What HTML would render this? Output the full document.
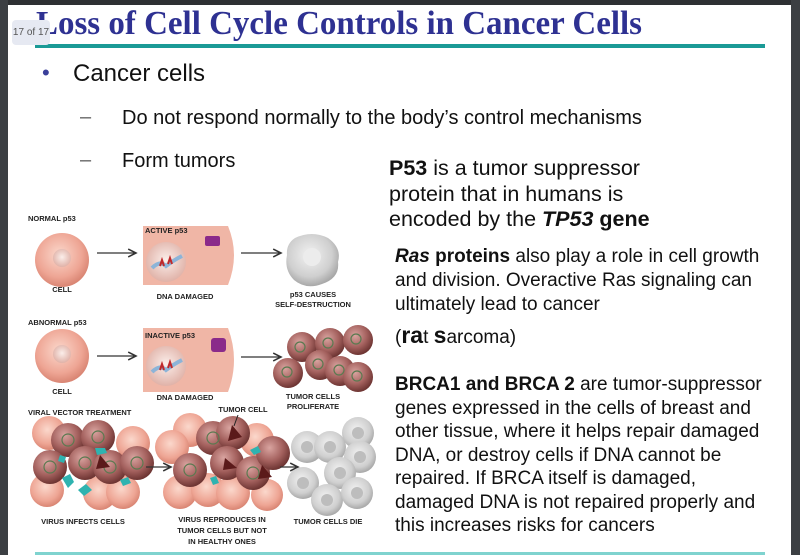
<!DOCTYPE html>
<html><head><meta charset="utf-8">
<style>
html,body{margin:0;padding:0}
body{width:800px;height:555px;position:relative;overflow:hidden;background:#fff;font-family:"Liberation Sans",Arial,sans-serif;color:#111}
.frameL{position:absolute;left:0;top:0;width:8px;height:555px;background:#3c3f43}
.frameR{position:absolute;right:0;top:0;width:9px;height:555px;background:#3c3f43}
.frameT{position:absolute;left:0;top:0;width:800px;height:5px;background:#2e3033}
.t{position:absolute;white-space:nowrap}
.badge{position:absolute;left:12px;top:20px;width:38px;height:25px;background:#e6e9f2;border-radius:4px;font-size:10px;color:#555;line-height:25px;text-align:center;white-space:nowrap}
</style></head><body>
<div class="frameT"></div><div class="frameL"></div><div class="frameR"></div>

<svg class="t" style="left:0;top:0" width="800" height="60">
<text x="36" y="34" font-family="Liberation Serif,serif" font-weight="bold" font-size="34" fill="#2e3192" textLength="606" lengthAdjust="spacingAndGlyphs">Loss of Cell Cycle Controls in Cancer Cells</text>
<rect x="35" y="44" width="730" height="4" fill="#1a9a96"/>
</svg>
<div class="badge">17 of 17</div>

<div class="t" style="left:42px;top:60px;font-size:22px;color:#3a3f9a">•</div>
<div class="t" style="left:73px;top:60px;font-size:24px">Cancer cells</div>
<div class="t" style="left:80px;top:106px;font-size:20px;color:#666">–</div>
<div class="t" style="left:122px;top:107px;font-size:20px">Do not respond normally to the body’s control mechanisms</div>
<div class="t" style="left:80px;top:149px;font-size:20px;color:#666">–</div>
<div class="t" style="left:122px;top:150px;font-size:20px">Form tumors</div>

<div class="t" style="left:389px;top:156px;font-size:21.5px;line-height:25.5px">
<b>P53</b> is a tumor suppressor<br>protein that in humans is<br>encoded by the <b><i>TP53</i> gene</b></div>
<div class="t" style="left:395px;top:245px;font-size:19px;line-height:24px">
<b><i>Ras</i> proteins</b> also play a role in cell growth<br>and division. Overactive Ras signaling can<br>ultimately lead to cancer</div>
<div class="t" style="left:395px;top:322px;font-size:19px">(<b style="font-size:23px">ra</b>t <b style="font-size:23px">s</b>arcoma)</div>
<div class="t" style="left:395px;top:373px;font-size:19px;line-height:23.5px">
<b>BRCA1 and BRCA 2</b> are tumor-suppressor<br>genes expressed in the cells of breast and<br>other tissue, where it helps repair damaged<br>DNA, or destroy cells if DNA cannot be<br>repaired. If BRCA itself is damaged,<br>damaged DNA is not repaired properly and<br>this increases risks for cancers</div>
<div style="position:absolute;left:35px;top:552px;width:730px;height:3px;background:#7fd3cf"></div>

<svg class="t" style="left:0;top:0" width="800" height="555" font-family="Liberation Sans,sans-serif" font-weight="bold" font-size="7.5" fill="#222">
<defs>
<radialGradient id="pk" cx="45%" cy="40%" r="60%"><stop offset="0" stop-color="#fbd8cc"/><stop offset="0.7" stop-color="#eea594"/><stop offset="1" stop-color="#d98573"/></radialGradient>
<radialGradient id="nu" cx="50%" cy="45%" r="55%"><stop offset="0" stop-color="#fbeeea"/><stop offset="1" stop-color="#e0b2a8"/></radialGradient>
<radialGradient id="tu" cx="40%" cy="35%" r="65%"><stop offset="0" stop-color="#d9a4a0"/><stop offset="0.6" stop-color="#a4615e"/><stop offset="1" stop-color="#6e3533"/></radialGradient>
<radialGradient id="gr" cx="45%" cy="40%" r="60%"><stop offset="0" stop-color="#f2f2f2"/><stop offset="0.7" stop-color="#cfcfcf"/><stop offset="1" stop-color="#a8a8a8"/></radialGradient>
<marker id="ar" markerWidth="8" markerHeight="8" refX="7" refY="4" orient="auto"><path d="M1,1 L7,4 L1,7" fill="none" stroke="#333" stroke-width="1.2"/></marker>
</defs>
<g font-size="7.5">
<text x="28" y="221">NORMAL p53</text>
<text x="28" y="325">ABNORMAL p53</text>
<text x="28" y="415">VIRAL VECTOR TREATMENT</text>
</g>
<circle cx="62" cy="260" r="27" fill="url(#pk)"/><circle cx="62" cy="258" r="9" fill="url(#nu)"/>
<text x="62" y="292" text-anchor="middle">CELL</text>
<line x1="97" y1="253" x2="136" y2="253" stroke="#333" stroke-width="1.3" marker-end="url(#ar)"/>
<path d="M143,226 H228 Q240,255 228,285 H143 Z" fill="#f0b6a6"/>
<circle cx="166" cy="262" r="20" fill="url(#nu)"/>
<path d="M152,268 q8,-8 14,-2 q8,-6 16,-10" stroke="#8cb4d8" stroke-width="4" fill="none"/>
<path d="M160,266 l2,-6 l2,6 M168,264 l2,-6 l2,6" stroke="#c0282a" stroke-width="2" fill="none"/>
<rect x="205" y="236" width="15" height="10" rx="2" fill="#8a2a8a"/>
<text x="145" y="233">ACTIVE p53</text>
<text x="185" y="299" text-anchor="middle">DNA DAMAGED</text>
<line x1="241" y1="253" x2="281" y2="253" stroke="#333" stroke-width="1.3" marker-end="url(#ar)"/>
<path d="M295,238 Q312,230 328,238 Q342,248 338,262 Q340,278 322,284 Q306,290 294,280 Q284,270 287,255 Q286,244 295,238Z" fill="url(#gr)"/>
<circle cx="312" cy="257" r="9" fill="#ececec"/>
<text x="313" y="297" text-anchor="middle">p53 CAUSES</text>
<text x="313" y="307" text-anchor="middle">SELF-DESTRUCTION</text>
<circle cx="62" cy="356" r="27" fill="url(#pk)"/><circle cx="62" cy="354" r="9" fill="url(#nu)"/>
<text x="62" y="394" text-anchor="middle">CELL</text>
<line x1="97" y1="356" x2="136" y2="356" stroke="#333" stroke-width="1.3" marker-end="url(#ar)"/>
<path d="M143,328 H228 Q240,360 228,392 H143 Z" fill="#f0b6a6"/>
<circle cx="166" cy="366" r="20" fill="url(#nu)"/>
<path d="M152,372 q8,-8 14,-2 q8,-6 16,-10" stroke="#8cb4d8" stroke-width="4" fill="none"/>
<path d="M160,370 l2,-6 l2,6 M168,368 l2,-6 l2,6" stroke="#c0282a" stroke-width="2" fill="none"/>
<rect x="211" y="338" width="15" height="14" rx="3" fill="#8a2a8a"/>
<text x="145" y="338">INACTIVE p53</text>
<text x="185" y="400" text-anchor="middle">DNA DAMAGED</text>
<line x1="241" y1="357" x2="281" y2="357" stroke="#333" stroke-width="1.3" marker-end="url(#ar)"/>
<g>
<circle cx="302" cy="347" r="15" fill="url(#tu)"/><circle cx="330" cy="343" r="15" fill="url(#tu)"/><circle cx="358" cy="340" r="15" fill="url(#tu)"/>
<circle cx="288" cy="373" r="15" fill="url(#tu)"/><circle cx="320" cy="365" r="15" fill="url(#tu)"/><circle cx="340" cy="371" r="15" fill="url(#tu)"/><circle cx="358" cy="377" r="15" fill="url(#tu)"/>
</g>
<g fill="none" stroke="#5a7a50" stroke-width="1.2">
<circle cx="300" cy="347" r="5"/><circle cx="328" cy="343" r="5"/><circle cx="356" cy="339" r="5"/><circle cx="287" cy="372" r="5"/><circle cx="318" cy="364" r="5"/><circle cx="339" cy="370" r="5"/><circle cx="357" cy="376" r="5"/>
</g>
<text x="313" y="399" text-anchor="middle">TUMOR CELLS</text>
<text x="313" y="409" text-anchor="middle">PROLIFERATE</text>
<g fill="url(#pk)">
<circle cx="49" cy="433" r="17"/><circle cx="133" cy="443" r="17"/><circle cx="47" cy="490" r="17"/><circle cx="100" cy="493" r="17"/><circle cx="123" cy="492" r="17"/>
<circle cx="190" cy="430" r="17"/><circle cx="172" cy="447" r="17"/><circle cx="257" cy="440" r="17"/><circle cx="180" cy="492" r="17"/><circle cx="208" cy="490" r="17"/><circle cx="233" cy="493" r="17"/><circle cx="267" cy="495" r="16"/>
</g>
<g fill="url(#tu)">
<circle cx="68" cy="440" r="17"/><circle cx="98" cy="437" r="17"/><circle cx="50" cy="467" r="17"/><circle cx="85" cy="463" r="17"/><circle cx="110" cy="467" r="17"/><circle cx="137" cy="463" r="17"/>
<circle cx="213" cy="438" r="17"/><circle cx="233" cy="433" r="17"/><circle cx="190" cy="470" r="17"/><circle cx="227" cy="463" r="17"/><circle cx="253" cy="473" r="17"/><circle cx="273" cy="453" r="17"/>
</g>
<g fill="none" stroke="#5a7a50" stroke-width="1.2">
<circle cx="68" cy="440" r="6"/><circle cx="98" cy="437" r="6"/><circle cx="50" cy="467" r="6"/><circle cx="85" cy="463" r="6"/><circle cx="110" cy="467" r="6"/><circle cx="137" cy="463" r="6"/>
<circle cx="213" cy="438" r="6"/><circle cx="190" cy="470" r="6"/><circle cx="253" cy="473" r="6"/>
</g>
<g fill="#2fb3b0">
<path d="M62,478 l8,-4 l4,8 l-6,6 z"/><path d="M78,490 l8,-6 l6,6 l-8,6z"/><path d="M95,448 l10,0 l2,5 l-10,2z"/><path d="M120,480 l8,-3 l3,6 l-8,3z"/><path d="M60,455 l6,2 l-2,6 l-6,-2z"/><path d="M250,450 l8,-4 l3,6 l-7,3z"/><path d="M210,478 l6,-2 l3,7 l-6,2z"/>
</g>
<g fill="#5b1a1a"><path d="M232,425 l10,12 l-14,4z"/><path d="M225,458 l12,10 l-14,2z"/><path d="M262,465 l10,12 l-14,2z"/><path d="M100,455 l10,12 l-14,2z"/></g>
<text x="243" y="412" text-anchor="middle">TUMOR CELL</text>
<line x1="238" y1="415" x2="234" y2="426" stroke="#222" stroke-width="1"/>
<line x1="146" y1="467" x2="171" y2="467" stroke="#333" stroke-width="1.3" marker-end="url(#ar)"/>
<line x1="280" y1="467" x2="298" y2="467" stroke="#333" stroke-width="1.3" marker-end="url(#ar)"/>
<g fill="url(#gr)">
<circle cx="307" cy="447" r="16"/><circle cx="330" cy="447" r="16"/><circle cx="358" cy="433" r="16"/><circle cx="360" cy="457" r="16"/><circle cx="340" cy="473" r="16"/><circle cx="303" cy="483" r="16"/><circle cx="327" cy="500" r="16"/><circle cx="357" cy="493" r="16"/>
</g>
<g fill="#bdbdbd"><circle cx="307" cy="447" r="6"/><circle cx="330" cy="447" r="6"/><circle cx="358" cy="433" r="6"/><circle cx="360" cy="457" r="6"/><circle cx="340" cy="473" r="6"/><circle cx="303" cy="483" r="6"/><circle cx="327" cy="500" r="6"/><circle cx="357" cy="493" r="6"/></g>
<text x="83" y="524" text-anchor="middle">VIRUS INFECTS CELLS</text>
<text x="222" y="522" text-anchor="middle">VIRUS REPRODUCES IN</text>
<text x="222" y="533" text-anchor="middle">TUMOR CELLS BUT NOT</text>
<text x="222" y="544" text-anchor="middle">IN HEALTHY ONES</text>
<text x="328" y="524" text-anchor="middle">TUMOR CELLS DIE</text>
</svg>
</body></html>
